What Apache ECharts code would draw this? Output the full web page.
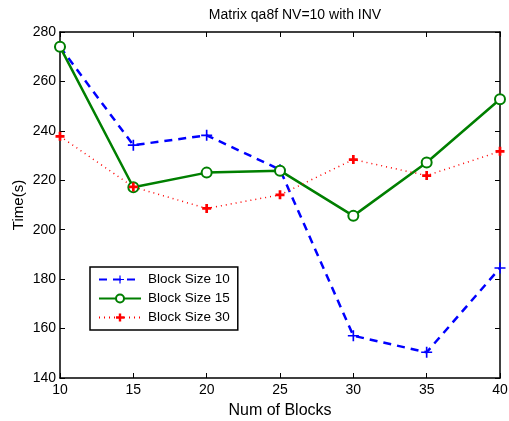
<!DOCTYPE html>
<html>
<head>
<meta charset="utf-8">
<script src="https://cdn.jsdelivr.net/npm/echarts@6/dist/echarts.min.js"></script>
<style>
  html, body { margin: 0; padding: 0; background: #fff; }
  #chart { width: 509px; height: 421px; }
</style>
</head>
<body>
<div id="chart"></div>
<script>
// Run time (s) against number of blocks, for three block sizes
const numBlocks = [10, 15, 20, 25, 30, 35, 40];
const blockSize10 = [274, 234.2, 238.2, 224.3, 157.1, 150.4, 184.5];
const blockSize15 = [274, 217.2, 223.1, 223.9, 205.6, 227.2, 252.8];
const blockSize30 = [237.8, 217.3, 208.6, 214.1, 228.4, 221.9, 231.7];
const seriesNames = ['Block Size 10', 'Block Size 15', 'Block Size 30'];

const FONT = 'Liberation Sans, Arial, Helvetica, sans-serif';
const plusPath = 'path://M-0.15,-1L0.15,-1L0.15,-0.15L1,-0.15L1,0.15L0.15,0.15L0.15,1L-0.15,1L-0.15,0.15L-1,0.15L-1,-0.15L-0.15,-0.15Z';
const starPath = 'path://M-0.3,-1L0.3,-1L0.3,-0.3L1,-0.3L1,0.3L0.3,0.3L0.3,1L-0.3,1L-0.3,0.3L-1,0.3L-1,-0.3L-0.3,-0.3Z';

const pairs = arr => numBlocks.map((x, i) => [x, arr[i]]);

const axisCommon = {
  axisLine: { show: true, lineStyle: { color: '#000', width: 1.5 } },
  axisTick: { show: true, inside: true, length: 5, lineStyle: { color: '#000' } },
  splitLine: { show: false }
};

const chart = echarts.init(document.getElementById('chart'), null, { renderer: 'canvas' });
chart.setOption({
  animation: false,
  backgroundColor: '#fff',
  title: {
    text: 'Matrix qa8f NV=10 with INV',
    left: 290, top: 3, textAlign: 'center',
    textStyle: { fontFamily: FONT, fontSize: 14, fontWeight: 'normal', color: '#000' }
  },
  grid: { left: 60, right: 9, top: 32, bottom: 43, outerBoundsMode: 'none', containLabel: false },
  legend: {
    data: seriesNames,
    orient: 'vertical',
    left: 90, top: 267,
    padding: [5, 8, 5, 8],
    itemGap: 4,
    itemWidth: 42, itemHeight: 10,
    backgroundColor: '#fff',
    borderColor: '#000', borderWidth: 1.5,
    textStyle: { fontFamily: FONT, fontSize: 13.5, color: '#000', padding: [0, 0, 0, 2], lineHeight: 15 }
  },
  xAxis: [
    Object.assign({}, axisCommon, {
      type: 'value', min: 10, max: 40, interval: 5,
      name: 'Num of Blocks', nameLocation: 'middle', nameGap: 25, nameMoveOverlap: false,
      nameTextStyle: { fontFamily: FONT, fontSize: 16, color: '#000' },
      axisLabel: { fontFamily: FONT, fontSize: 14, color: '#000', margin: 5 }
    }),
    Object.assign({}, axisCommon, {
      type: 'value', min: 10, max: 40, interval: 5, position: 'top',
      axisLabel: { show: false }
    })
  ],
  yAxis: [
    Object.assign({}, axisCommon, {
      type: 'value', min: 140, max: 280, interval: 20,
      name: 'Time(s)', nameLocation: 'middle', nameGap: 34, nameRotate: 90, nameMoveOverlap: false,
      nameTextStyle: { fontFamily: FONT, fontSize: 15, color: '#000' },
      axisLabel: { fontFamily: FONT, fontSize: 14, color: '#000', margin: 4 }
    }),
    Object.assign({}, axisCommon, {
      type: 'value', min: 140, max: 280, interval: 20, position: 'right',
      axisLabel: { show: false }
    })
  ],
  series: [
    {
      name: seriesNames[0], type: 'line', data: pairs(blockSize10),
      symbol: plusPath, symbolSize: 11,
      lineStyle: { color: '#0000ff', width: 2.5, type: [8, 6] },
      itemStyle: { color: '#0000ff' }
    },
    {
      name: seriesNames[1], type: 'line', data: pairs(blockSize15),
      symbol: 'emptyCircle', symbolSize: 10,
      lineStyle: { color: '#007f00', width: 2.5, type: 'solid' },
      itemStyle: { color: '#007f00', borderColor: '#007f00', borderWidth: 2 }
    },
    {
      name: seriesNames[2], type: 'line', data: pairs(blockSize30),
      symbol: starPath, symbolSize: 9,
      lineStyle: { color: '#ff0000', width: 1.5, type: [1, 4] },
      itemStyle: { color: '#ff0000' }
    }
  ]
});
</script>
</body>
</html>
